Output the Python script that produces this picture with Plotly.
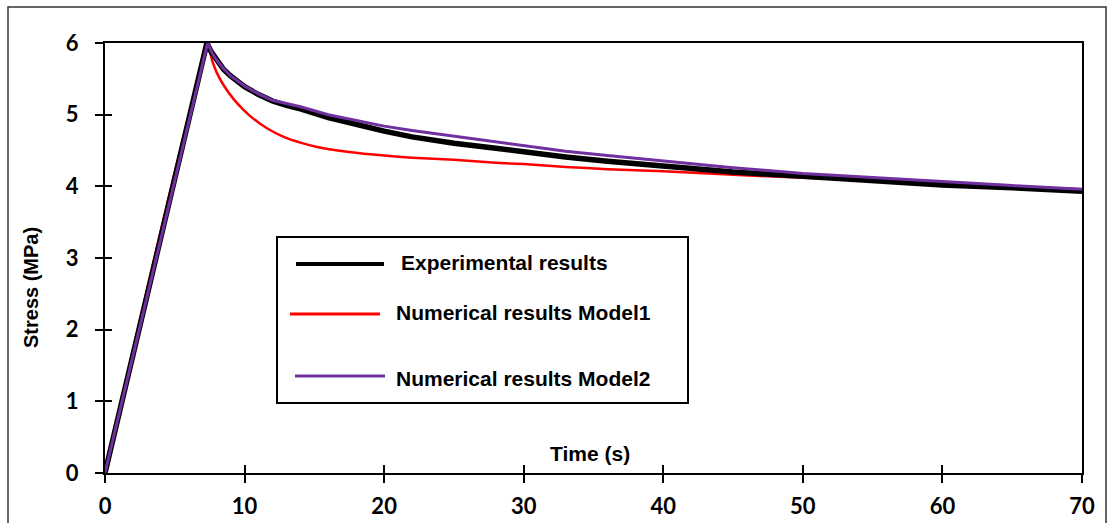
import plotly.graph_objects as go

# ---------------- data ----------------
exp_t = [0, 7.3, 7.6, 8.0, 8.5, 9.0, 10.0, 11.0, 12.0, 13.0, 14.0, 16.0, 18.0, 20.0, 22.0,
         25.0, 28.0, 30.0, 33.0, 36.0, 40.0, 45.0, 50.0, 55.0, 60.0, 65.0, 70.0]
exp_s = [0, 6.0, 5.88, 5.76, 5.63, 5.54, 5.39, 5.28, 5.19, 5.13, 5.08, 4.96, 4.86, 4.77, 4.69,
         4.60, 4.53, 4.48, 4.41, 4.35, 4.28, 4.20, 4.14, 4.08, 4.02, 3.98, 3.93]

m1_t = [0, 7.4, 7.7, 8.0, 8.5, 9.2, 9.8, 10.4, 11.0, 11.6, 12.8, 14.0, 15.2, 17.5, 20.0, 22.0,
        25.0, 28.0, 30.0, 33.0, 36.0, 40.0, 45.0, 50.0, 55.0, 60.0, 65.0, 70.0]
m1_s = [0, 5.93, 5.74, 5.59, 5.41, 5.22, 5.09, 4.98, 4.89, 4.81, 4.69, 4.61, 4.55, 4.48, 4.43, 4.40,
        4.37, 4.33, 4.31, 4.27, 4.24, 4.21, 4.16, 4.12, 4.09, 4.04, 4.00, 3.96]

m2_t = [0, 7.35, 7.7, 8.0, 8.5, 9.0, 10.0, 11.0, 12.0, 14.0, 16.0, 18.0, 20.0, 22.0, 25.0,
        28.0, 30.0, 33.0, 36.0, 40.0, 45.0, 50.0, 55.0, 60.0, 65.0, 70.0]
m2_s = [0, 6.0, 5.85, 5.76, 5.64, 5.54, 5.40, 5.29, 5.20, 5.11, 5.00, 4.92, 4.84, 4.78, 4.70,
        4.62, 4.57, 4.49, 4.43, 4.35, 4.26, 4.18, 4.12, 4.06, 4.01, 3.96]

x_ticks = [0, 10, 20, 30, 40, 50, 60, 70]
y_ticks = [0, 1, 2, 3, 4, 5, 6]

series_names = ["Experimental results", "Numerical results Model1", "Numerical results Model2"]
series_colors = ["#000000", "#FF0000", "#7030A0"]

# ---------------- layout geometry ----------------
W, H = 1108, 523
L, R, T, B = 105, 1082, 43, 473  # plot area in pixels


def px(xp):
    return (xp - L) / (R - L)


def py(yp):
    return (B - yp) / (B - T)


fig = go.Figure()

fig.add_trace(go.Scatter(x=m1_t, y=m1_s, mode="lines", name=series_names[1],
                         line=dict(color=series_colors[1], width=2.5, shape="spline", smoothing=0.6),
                         showlegend=False))
fig.add_trace(go.Scatter(x=exp_t, y=exp_s, mode="lines", name=series_names[0],
                         line=dict(color=series_colors[0], width=5.5), showlegend=False))
fig.add_trace(go.Scatter(x=m2_t, y=m2_s, mode="lines", name=series_names[2],
                         line=dict(color=series_colors[2], width=3), showlegend=False))
# dummy trace for overlay axes (inside tick marks)
fig.add_trace(go.Scatter(x=[0], y=[0], xaxis="x2", yaxis="y2", mode="markers",
                         marker=dict(opacity=0), showlegend=False, hoverinfo="skip"))

tick_font = dict(family="Lato", size=22, color="#000000", weight="bold")
label_font = dict(family="Liberation Sans", size=21, color="black", weight="bold")

fig.update_layout(
    width=W, height=H,
    margin=dict(l=L, r=W - R, t=T, b=H - B, autoexpand=False),
    paper_bgcolor="white", plot_bgcolor="white",
    xaxis=dict(range=[0, 70], tickvals=x_ticks, ticktext=[str(v) for v in x_ticks],
               showgrid=False, zeroline=False, showline=True, linecolor="black", linewidth=2,
               mirror=True, ticks="outside", ticklen=8, tickwidth=2, tickcolor="black",
               tickfont=tick_font, ticklabelstandoff=5, automargin=False),
    yaxis=dict(range=[0, 6], tickvals=y_ticks, ticktext=[str(v) for v in y_ticks],
               showgrid=False, zeroline=False, showline=True, linecolor="black", linewidth=2,
               mirror=True, ticks="outside", ticklen=8, tickwidth=2, tickcolor="black",
               tickfont=tick_font, ticklabelstandoff=12, automargin=False),
    xaxis2=dict(range=[0, 70], tickvals=x_ticks, overlaying="x", side="bottom",
                showticklabels=False, showgrid=False, zeroline=False, showline=False,
                ticks="inside", ticklen=8, tickwidth=2, tickcolor="black", automargin=False),
    yaxis2=dict(range=[0, 6], tickvals=y_ticks, overlaying="y", side="left",
                showticklabels=False, showgrid=False, zeroline=False, showline=False,
                ticks="inside", ticklen=7, tickwidth=2, tickcolor="black", automargin=False),
    showlegend=False,
)

shapes = []
# outer chart frame
shapes.append(dict(type="rect", xref="paper", yref="paper",
                   x0=px(8), x1=px(1106), y0=py(7), y1=py(560),
                   line=dict(color="#333333", width=1.5), fillcolor="rgba(0,0,0,0)", layer="below"))
# legend box
shapes.append(dict(type="rect", xref="paper", yref="paper",
                   x0=px(277), x1=px(688), y0=py(237), y1=py(403),
                   line=dict(color="black", width=2), fillcolor="white", layer="above"))

legend_rows = [
    (296, 384, 264, 399, 262),
    (290, 380, 314, 394, 312),
    (295, 385, 376, 394, 378),
]
annotations = []
for (lx0, lx1, ly, tx, ty), name, color, w in zip(legend_rows, series_names, series_colors, [4, 3, 3]):
    shapes.append(dict(type="line", xref="paper", yref="paper",
                       x0=px(lx0), x1=px(lx1), y0=py(ly), y1=py(ly),
                       line=dict(color=color, width=w), layer="above"))
    annotations.append(dict(xref="paper", yref="paper", x=px(tx), y=py(ty), text=name,
                            showarrow=False, xanchor="left", yanchor="middle", font=label_font))

annotations.append(dict(xref="paper", yref="paper", x=px(590), y=py(453), text="Time (s)",
                        showarrow=False, xanchor="center", yanchor="middle", font=label_font))
annotations.append(dict(xref="paper", yref="paper", x=px(31), y=py(288), text="Stress (MPa)",
                        showarrow=False, xanchor="center", yanchor="middle", textangle=-90,
                        font=dict(family="Liberation Sans", size=20, color="black", weight="bold")))

fig.update_layout(shapes=shapes, annotations=annotations)

fig.write_html("out.html")
